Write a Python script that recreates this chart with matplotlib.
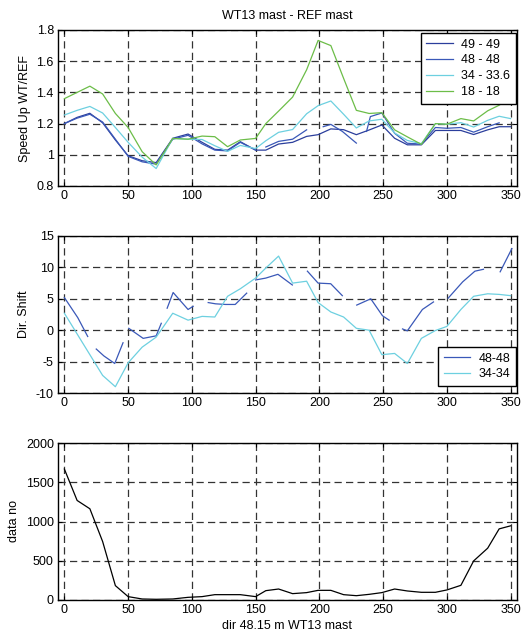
import numpy as np
import matplotlib
matplotlib.use("Agg")
import matplotlib.pyplot as plt
from matplotlib.ticker import FuncFormatter

nan = np.nan

# wind direction bins (deg)
dirs = [0, 10, 20, 30, 40, 50, 61, 72, 85, 97, 108, 118, 128, 138, 150, 158, 168, 179,
        190, 199, 209, 219, 229, 239, 249, 259, 269, 280, 291, 300, 311, 321, 332, 341, 350]

# speed up ratios WT13 / REF
su_49 = [1.20, 1.24, 1.266, 1.205, 1.095, 0.994, 0.962, 0.95, 1.106, 1.133, 1.08, 1.035, 1.03,
         1.084, 1.03, 1.03, 1.069, 1.08, 1.118, 1.129, 1.166, 1.161, 1.129, 1.159, 1.191, 1.106,
         1.064, 1.064, 1.156, 1.156, 1.156, 1.13, 1.16, 1.18, 1.18]
su_34 = [1.255, 1.285, 1.31, 1.268, 1.175, 1.08, 0.985, 0.912, 1.105, 1.10, 1.098, 1.058, 1.022,
         1.06, 1.04, 1.09, 1.144, 1.162, 1.263, 1.315, 1.345, 1.26, 1.172, 1.217, 1.228, 1.14,
         1.092, 1.071, 1.20, 1.196, 1.206, 1.178, 1.221, 1.247, 1.232]
su_18 = [1.36, 1.40, 1.44, 1.39, 1.265, 1.175, 1.02, 0.935, 1.105, 1.10, 1.12, 1.116, 1.052,
         1.095, 1.105, 1.20, 1.28, 1.37, 1.545, 1.733, 1.70, 1.49, 1.285, 1.265, 1.27, 1.16,
         1.115, 1.067, 1.20, 1.196, 1.232, 1.217, 1.282, 1.318, 1.37]

# 48 m series has gaps (nan)
dir_48t = [0, 10, 20, 30, 40, 50, 61, 72, 85, 97, 108, 118, 128, 138, 150, nan, 158, 168, 179,
           190, nan, 203, 209, 218, 229, nan, 237, 240, 249, 259, 269, 280, 291, 300, 311, 321,
           332, 341]
su_48 = [1.20, 1.235, 1.26, 1.21, 1.10, 0.99, 0.955, 0.94, 1.10, 1.125, 1.07, 1.03, 1.025, 1.08,
         1.03, nan, 1.05, 1.086, 1.10, 1.16, nan, 1.18, 1.195, 1.15, 1.075, nan, 1.15, 1.245,
         1.268, 1.138, 1.074, 1.069, 1.175, 1.17, 1.175, 1.145, 1.18, 1.205]

# direction shift
dir_48m = [0, 10.5, 18.3, nan, 25, 31, 39.5, 46, nan, 50.5, 61.8, 72, 76, nan, 80.6, 85.3, 97,
           101, nan, 112.8, 118.6, 126.4, 134, 143, nan, 150, 158, 167.5, 178.8, nan, 190.6,
           199, 208.9, 218, nan, 229.3, 240.3, 249.5, 254.7, nan, 265.2, 269, 280.8, 289.5, nan,
           301, 312.4, 322, 328.7, nan, 341.8, 351]
ds_48 = [5.2, 2.0, -1.0, nan, -3.0, -4.1, -5.3, -2.0, nan, 0.3, -1.3, -0.9, 1.1, nan, 3.5, 6.0,
         3.3, 3.8, nan, 4.4, 4.2, 4.1, 4.1, 5.9, nan, 8.0, 8.3, 8.9, 7.2, nan, 9.4, 7.5, 7.4,
         5.5, nan, 4.0, 5.0, 2.3, 1.6, nan, 0.2, -0.1, 3.3, 4.5, nan, 5.1, 7.7, 9.4, 9.7, nan,
         9.3, 13.0]
ds_34 = [2.7, -0.6, -3.9, -7.2, -9.0, -5.2, -2.7, -1.1, 2.7, 1.6, 2.2, 2.1, 5.4, 6.6, 8.3, 9.9,
         11.8, 7.5, 7.8, 4.4, 2.9, 2.1, 0.3, 0.0, -3.9, -3.7, -5.3, -1.3, -0.05, 0.6, 3.3, 5.4,
         5.8, 5.7, 5.5]

# number of data per bin
data_no = [1668, 1268, 1162, 745, 183, 43, 13, 9, 13, 34, 43, 68, 68, 68, 43, 119, 140, 81,
           94, 123, 123, 68, 55, 72, 94, 140, 115, 98, 98, 128, 187, 498, 660, 906, 945]

c49 = "#2b3e9c"
c48 = "#3a58b8"
c34 = "#6dd0e0"
c18 = "#6cbd48"

plt.rcParams["font.family"] = ["Liberation Sans", "DejaVu Sans"]
plt.rcParams["font.size"] = 9

W, H = 523, 637
fig = plt.figure(figsize=(W / 100, H / 100), dpi=100)

left = 58 / W
width = (517 - 58) / W


def make_ax(top_px, bot_px):
    return fig.add_axes([left, 1 - bot_px / H, width, (bot_px - top_px) / H])


def style(ax, yticks):
    ax.set_xlim(-5, 355)
    ax.set_xticks(range(0, 351, 50))
    ax.set_yticks(yticks)
    ax.set_ylim(yticks[0], yticks[-1])
    ax.yaxis.set_major_formatter(FuncFormatter(lambda v, p: "%g" % round(v, 6)))
    ax.grid(True, color="0.2", linewidth=0.9, linestyle=(0, (5.8, 3.4)))
    ax.tick_params(direction="in", length=3, top=True, right=True, labelsize=9, pad=3)
    for s in ax.spines.values():
        s.set_linewidth(1.0)


def legend(ax, loc, y_px):
    leg = ax.legend(loc=loc, bbox_to_anchor=(516 / W, 1 - y_px / H),
                    bbox_transform=fig.transFigure, borderaxespad=0, fancybox=False,
                    edgecolor="black", framealpha=1, handlelength=2.1, handletextpad=0.7,
                    labelspacing=0.3, borderpad=0.45)
    leg.get_frame().set_linewidth(1.0)


lw = 0.9

ax1 = make_ax(30, 186)
ax1.plot(dirs, su_49, color=c49, lw=lw, label="49 - 49")
ax1.plot(dir_48t, su_48, color=c48, lw=lw, label="48 - 48")
ax1.plot(dirs, su_34, color=c34, lw=lw, label="34 - 33.6")
ax1.plot(dirs, su_18, color=c18, lw=lw, label="18 - 18")
style(ax1, [0.8, 1.0, 1.2, 1.4, 1.6, 1.8])
ax1.set_ylabel("Speed Up WT/REF")
ax1.set_title("WT13 mast - REF mast", fontsize=9, pad=8)
legend(ax1, "upper right", 33)

ax2 = make_ax(236, 393)
ax2.plot(dir_48m, ds_48, color=c48, lw=lw, label="48-48")
ax2.plot(dirs, ds_34, color=c34, lw=lw, label="34-34")
style(ax2, [-10, -5, 0, 5, 10, 15])
ax2.set_ylabel("Dir. Shift")
legend(ax2, "lower right", 386)

ax3 = make_ax(443, 600)
ax3.plot(dirs, data_no, color="black", lw=lw)
style(ax3, [0, 500, 1000, 1500, 2000])
ax3.set_ylabel("data no")
ax3.set_xlabel("dir 48.15 m WT13 mast", labelpad=3)

fig.savefig("out.png", dpi=100)
